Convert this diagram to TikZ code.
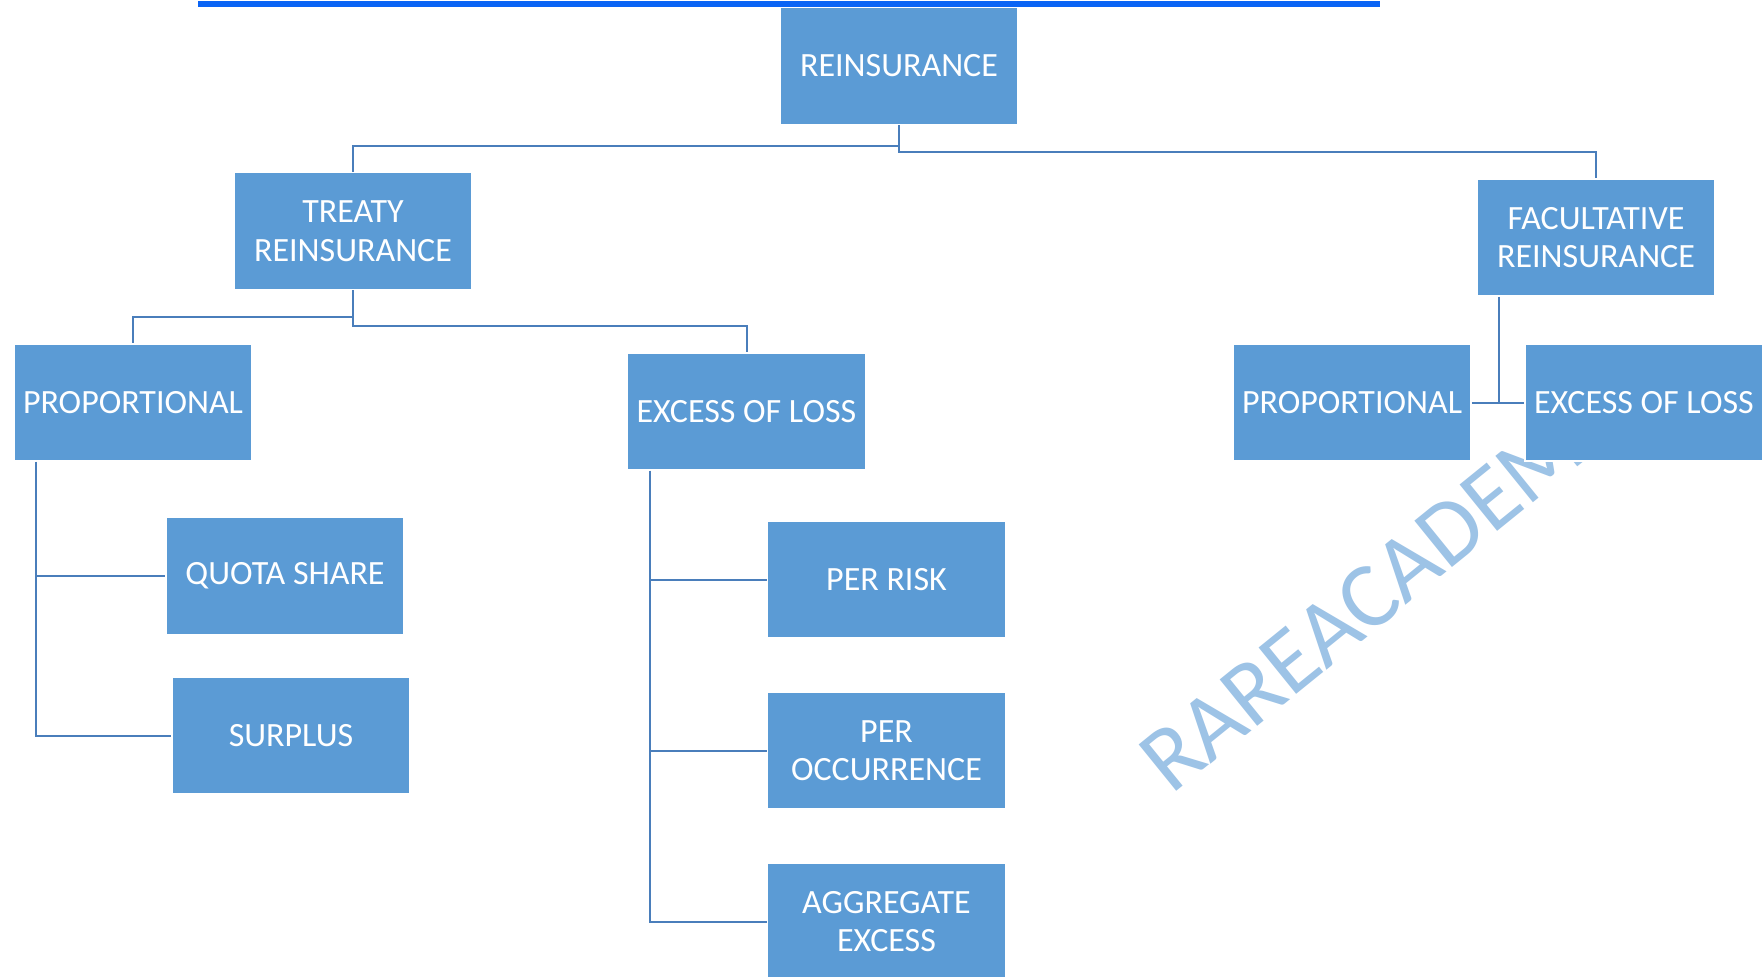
\documentclass[tikz,border=0pt]{standalone}
\usepackage{fontspec}
\newfontfamily\carlito{Carlito}
\definecolor{boxblue}{HTML}{5B9BD5}
\definecolor{connblue}{HTML}{4A7EBB}
\definecolor{topblue}{HTML}{0A64F5}
\definecolor{wmblue}{HTML}{9DC3E6}
\begin{document}
\begin{tikzpicture}[x=1pt,y=-1pt,
  box/.style={rectangle, fill=boxblue, draw=white, line width=1.5pt,
    minimum width=238pt, minimum height=117pt, inner sep=0pt, text=white,
    font=\carlito\fontsize{34}{38.5}\selectfont, align=center},
  conn/.style={draw=connblue, line width=2pt},
  topline/.style={draw=topblue, line width=6pt},
  watermark/.style={rotate=39, anchor=base west, text=wmblue, inner sep=0pt,
    font=\carlito\fontsize{93}{93}\selectfont}]
\useasboundingbox (0,0) rectangle (1762,977);
\fill[white] (0,0) rectangle (1762,977);
% watermark
\node[watermark] (wm) at (1171,796) {RAREACADEMY};
% top line
\coordinate (tl) at (198,4);
\coordinate (tr) at (1380,4);
\draw[topline] (tl) -- (tr);
% boxes
\node[box] (rein)   at (899,66)      {REINSURANCE};
\node[box] (treaty) at (353,231)     {TREATY\\REINSURANCE};
\node[box] (fac)    at (1596,237.5)  {FACULTATIVE\\REINSURANCE};
\node[box] (propL)  at (133,402.5)   {PROPORTIONAL};
\node[box] (xolM)   at (746.5,411.5) {EXCESS OF LOSS};
\node[box] (propR)  at (1352,402.5)  {PROPORTIONAL};
\node[box] (xolR)   at (1644,402.5)  {EXCESS OF LOSS};
\node[box] (quota)  at (285,576)     {QUOTA SHARE};
\node[box] (surplus) at (291,735.5)  {SURPLUS};
\node[box] (perrisk) at (886.5,579.5) {PER RISK};
\node[box] (perocc)  at (886.5,750.5) {PER\\OCCURRENCE};
\node[box] (aggr)    at (886.5,921.5) {AGGREGATE\\EXCESS};
% connectors
\draw[conn] (rein.south) -- ++(0,21) -| (treaty.north);
\draw[conn] (rein.south) -- ++(0,27) -| (fac.north);
\draw[conn] (treaty.south) -- ++(0,27) -| (propL.north);
\draw[conn] (treaty.south) -- ++(0,36) -| (xolM.north);
\coordinate (pv) at ([xshift=23pt]propL.south west);
\draw[conn] (pv) |- (quota.west);
\draw[conn] (pv) |- (surplus.west);
\coordinate (xv) at ([xshift=23pt]xolM.south west);
\draw[conn] (xv) |- (perrisk.west);
\draw[conn] (xv) |- (perocc.west);
\draw[conn] (xv) |- (aggr.west);
\coordinate (fv) at ([xshift=23pt]fac.south west);
\draw[conn] (fv) -- (fv |- propR.east);
\draw[conn] (propR.east) -- (xolR.west);
\end{tikzpicture}
\end{document}
